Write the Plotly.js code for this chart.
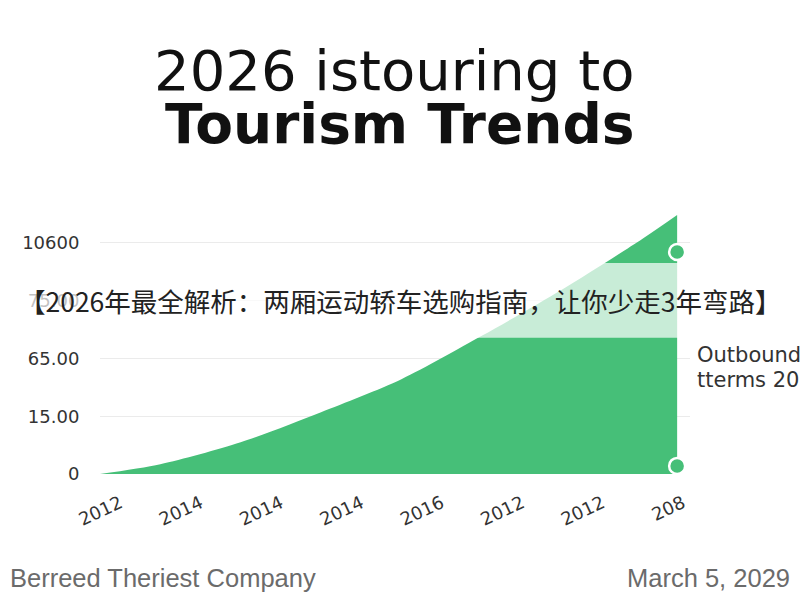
<!DOCTYPE html>
<html>
<head>
<meta charset="utf-8">
<script src="https://cdn.plot.ly/plotly-3.0.1.min.js"></script>
<style>html,body{margin:0;padding:0;background:#fff;}#chart{width:800px;height:600px;}</style>
</head>
<body>
<div id="chart"></div>
<script>
// ---- data ----
const xTickPos = [0, 1, 2, 3, 4, 5, 6, 7];
const xTickLabels = ["2012", "2014", "2014", "2014", "2016", "2012", "2012", "208"];
const yTickPos = [0, 1, 2, 3, 4];
const yTickLabels = ["0", "15.00", "65.00", "75.00", "10600"];
const areaX = [-0.25, 0.5, 1.5, 2.5, 3.5, 4.5, 5.5, 6.5, 6.93];
const areaY = [0, 0.17, 0.55, 1.07, 1.64, 2.39, 3.19, 4.07, 4.48];
const markerX = [6.93, 6.93];
const markerY = [3.84, 0.14];
const bandRange = [2.355, 3.65];

const titleLine1 = "2026 istouring to";
const titleLine2 = "Tourism Trends";
const overlayText = "【2026年最全解析：两厢运动轿车选购指南，让你少走3年弯路】";
const sideLine1 = "Outbound";
const sideLine2 = "tterms 2026";
const footerLeft = "Berreed Theriest Company";
const footerRight = "March 5, 2029";

const green = "#46bf78";
const L = 100, R = 110, T = 215, B = 126;
const W = 800 - L - R, H = 600 - T - B;
const px = p => (p - L) / W;
const py = p => (600 - B - p) / H;

const traces = [
  {
    x: areaX, y: areaY, type: "scatter", mode: "lines",
    line: {color: green, width: 0, shape: "spline", smoothing: 0.8},
    fill: "tozeroy", fillcolor: green, hoverinfo: "skip", showlegend: false
  },
  {
    x: markerX, y: markerY, type: "scatter", mode: "markers",
    marker: {color: green, size: 16, line: {color: "#ffffff", width: 2.5}},
    cliponaxis: false, showlegend: false
  }
];

const layout = {
  width: 800, height: 600,
  margin: {l: L, r: R, t: T, b: B},
  paper_bgcolor: "#ffffff", plot_bgcolor: "#ffffff",
  showlegend: false,
  xaxis: {
    range: [-0.25, 7.09], showgrid: false, zeroline: false, showline: false,
    tickmode: "array", tickvals: xTickPos, ticktext: xTickLabels,
    tickangle: -25, ticks: "outside", ticklen: 11, tickcolor: "rgba(0,0,0,0)",
    tickfont: {family: "DejaVu Sans", size: 18, color: "#333333"}
  },
  yaxis: {
    range: [0, 4.48], showgrid: true, gridcolor: "#ebebeb", gridwidth: 1,
    zeroline: false, showline: false,
    tickmode: "array", tickvals: yTickPos, ticktext: yTickLabels,
    ticks: "outside", ticklen: 16, tickcolor: "rgba(0,0,0,0)",
    tickfont: {family: "DejaVu Sans", size: 18, color: "#333333"}
  },
  shapes: [
    {type: "rect", xref: "paper", yref: "y", x0: -0.3, x1: 1.3,
     y0: bandRange[0], y1: bandRange[1],
     fillcolor: "rgba(255,255,255,0.7)", line: {width: 0}, layer: "above"}
  ],
  annotations: [
    {text: titleLine1, xref: "paper", yref: "paper", x: px(394), y: py(70),
     xanchor: "center", yanchor: "middle", showarrow: false,
     font: {family: "DejaVu Sans", size: 56, color: "#111111"}},
    {text: "<b>" + titleLine2 + "</b>", xref: "paper", yref: "paper", x: px(400), y: py(124),
     xanchor: "center", yanchor: "middle", showarrow: false,
     font: {family: "DejaVu Sans", size: 55, color: "#111111"}},
    {text: overlayText, xref: "paper", yref: "paper", x: px(400), y: py(300),
     xanchor: "center", yanchor: "middle", showarrow: false,
     font: {family: "Noto Sans CJK SC", size: 26.5, color: "#222222"}},
    {text: sideLine1, xref: "paper", yref: "paper", x: px(695), y: py(355),
     xanchor: "left", yanchor: "middle", showarrow: false,
     font: {family: "DejaVu Sans", size: 21, color: "#333333"}},
    {text: sideLine2, xref: "paper", yref: "paper", x: px(695), y: py(380),
     xanchor: "left", yanchor: "middle", showarrow: false,
     font: {family: "DejaVu Sans", size: 21, color: "#333333"}},
    {text: footerLeft, xref: "paper", yref: "paper", x: px(8), y: py(578),
     xanchor: "left", yanchor: "middle", showarrow: false,
     font: {family: "Liberation Sans", size: 25.5, color: "#6b6b6b"}},
    {text: footerRight, xref: "paper", yref: "paper", x: px(792), y: py(578),
     xanchor: "right", yanchor: "middle", showarrow: false,
     font: {family: "Liberation Sans", size: 25.5, color: "#6b6b6b"}}
  ]
};

Plotly.newPlot("chart", traces, layout, {displayModeBar: false, staticPlot: true});
</script>
</body>
</html>
